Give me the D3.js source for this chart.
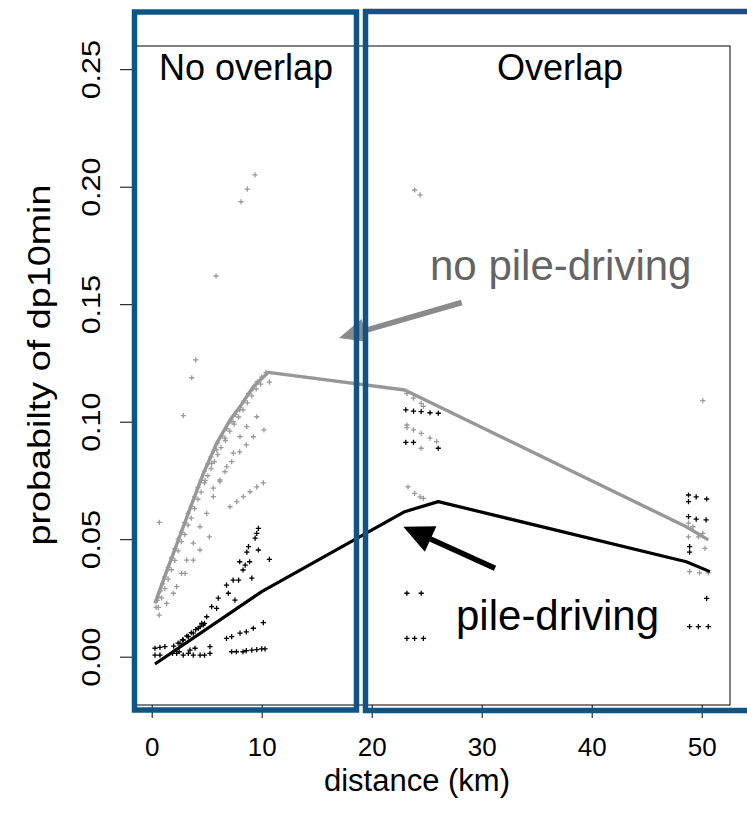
<!DOCTYPE html>
<html>
<head>
<meta charset="utf-8">
<script src="https://cdn.jsdelivr.net/npm/d3@7"></script>
<style>
  body { margin: 0; background: #fff; }
  svg { display: block; }
  text { font-family: "Liberation Sans", Arial, Helvetica, sans-serif; }
</style>
</head>
<body>
<svg id="chart" width="747" height="819"></svg>
<script>
// ---- axis ticks ----
const xTicks = [0, 10, 20, 30, 40, 50];
const yTicks = [0, 0.05, 0.10, 0.15, 0.20, 0.25];
const yTickLabels = ["0.00", "0.05", "0.10", "0.15", "0.20", "0.25"];

// ---- fitted curves (distance km, probability) ----
const greyLineX = [0.3, 1.06, 1.97, 2.87, 3.78, 4.7, 5.9, 7.12, 8.03, 9.24, 10.6, 23.0, 48.6, 50.6];
const greyLineY = [0.0227, 0.0326, 0.044, 0.0553, 0.0667, 0.078, 0.0908, 0.1007, 0.1064, 0.1149, 0.121, 0.1135, 0.0553, 0.0497];
const blackLineX = [0.3, 10.0, 23.0, 26.05, 48.6, 50.75];
const blackLineY = [-0.0031, 0.0277, 0.0617, 0.066, 0.0404, 0.0362];

// ---- observations without pile-driving (grey) ----
const greyPtX = [
  9.39, 8.69, 8.12, 5.85, 4.0, 3.64, 2.87, 10.7, 10.2, 0.69, 0.69,
  0.4, 0.5, 0.6, 0.8, 1.0, 1.2, 1.5, 1.8, 2.1, 2.4, 2.7, 3.0, 3.3, 3.6, 3.9, 4.2, 4.5, 4.8,
  5.1, 5.4, 5.7, 6.0, 6.4, 6.8, 7.2, 7.6, 8.0, 8.4, 8.8, 9.2, 9.6, 10.0, 10.4,
  0.6, 0.9, 1.2, 1.5, 1.8, 2.1, 2.4, 2.7, 3.0, 3.3, 3.6, 3.9, 4.2, 4.5, 4.8,
  5.1, 5.4, 5.7, 6.0, 6.3, 6.7, 7.1, 7.5, 7.9, 8.3, 8.7, 9.1, 9.5, 9.9,
  8.0, 7.4, 6.66, 5.9, 5.45, 4.85,
  1.36, 1.97, 2.72, 3.18, 3.78, 4.39, 5.0, 5.6, 6.2, 6.82, 7.42, 8.03, 8.64, 9.55,
  2.27, 3.03, 3.78, 4.39, 5.24,
  5.6, 6.2, 6.66, 7.27, 8.0, 8.6, 9.24,
  7.12, 7.73, 8.33, 8.94, 9.55, 10.15,
  23.2, 23.8, 24.5, 24.7, 23.2, 23.8, 24.5, 25.3, 25.9, 24.5, 23.2,
  23.3, 23.9, 24.4, 24.7, 24.4, 23.9,
  50.1, 48.8, 48.8, 49.7, 50.3, 48.9, 49.8, 50.6, 49.2, 50.1
];
const greyPtY = [
  0.205, 0.199, 0.1936, 0.162, 0.1263, 0.1187, 0.1026, 0.1168, 0.0965, 0.0572, 0.0177,
  0.021, 0.024, 0.0255, 0.028, 0.031, 0.034, 0.038, 0.042, 0.046, 0.050, 0.053, 0.057, 0.061, 0.064, 0.068, 0.072, 0.075, 0.079,
  0.082, 0.085, 0.088, 0.091, 0.094, 0.097, 0.100, 0.103, 0.106, 0.109, 0.112, 0.114, 0.117, 0.119, 0.121,
  0.021, 0.025, 0.029, 0.033, 0.037, 0.041, 0.045, 0.049, 0.052, 0.056, 0.059, 0.063, 0.067, 0.070, 0.074,
  0.077, 0.080, 0.083, 0.086, 0.089, 0.092, 0.096, 0.099, 0.102, 0.105, 0.108, 0.111, 0.114, 0.116,
  0.105, 0.1, 0.093, 0.088, 0.0823, 0.075,
  0.0227, 0.027, 0.0355, 0.0411, 0.0483, 0.0553, 0.061, 0.0681, 0.0752, 0.0809, 0.0866, 0.0936, 0.0979, 0.1021,
  0.0298, 0.0355, 0.0411, 0.0454, 0.051,
  0.0717, 0.0745, 0.0787, 0.083, 0.0872, 0.0901, 0.0936,
  0.0638, 0.066, 0.0681, 0.0702, 0.0723, 0.074,
  0.112, 0.11, 0.1078, 0.1065, 0.0986, 0.0965, 0.095, 0.093, 0.0915, 0.0887, 0.0975,
  0.0723, 0.0695, 0.068, 0.0674, 0.1965, 0.1986,
  0.109, 0.0568, 0.051, 0.051, 0.0461, 0.0362, 0.0357, 0.0357, 0.0553, 0.0525
];

// ---- observations with pile-driving (black) ----
const blackPtX = [
  9.7, 9.55, 9.4, 8.8, 8.65, 9.7, 8.0, 8.5, 8.9, 8.3, 9.1, 10.7, 7.4, 7.9, 6.8, 6.97, 6.05, 7.57,
  5.45, 5.9, 5.0, 4.55, 4.7, 4.24, 3.78, 3.33, 2.87, 2.57,
  2.0, 2.4, 2.8, 3.2, 3.6, 4.0, 4.4, 4.8,
  0.3, 0.75, 1.2, 0.3, 0.75, 2.27, 2.87, 3.33, 3.78, 4.4, 4.8, 5.3, 5.3, 3.94, 3.48, 1.9, 2.5,
  6.8, 7.27, 8.03, 8.6, 9.24, 10.15,
  7.27, 7.7, 8.3, 8.6, 9.1, 9.55, 10.0, 10.3,
  23.1, 23.8, 24.5, 25.3, 26.05, 23.1, 23.8, 26.05,
  23.2, 24.5, 23.2, 23.9, 24.7,
  48.8, 48.8, 49.5, 50.45, 48.8, 49.5, 50.4, 48.9, 48.9, 50.45, 48.9, 49.7, 50.6
];
const blackPtY = [
  0.0546, 0.0525, 0.0505, 0.0468, 0.0445, 0.0454, 0.0404, 0.039, 0.0404, 0.0369, 0.0334, 0.0414, 0.0326, 0.0326, 0.0305, 0.027, 0.0249, 0.0241,
  0.0213, 0.0206, 0.017, 0.0142, 0.0135, 0.0121, 0.01, 0.0085, 0.0071, 0.0057,
  0.0045, 0.0058, 0.0072, 0.0088, 0.0102, 0.0115, 0.0128, 0.0142,
  0.0036, 0.004, 0.0043, 0.0007, 0.0007, 0.0014, 0.0007, 0.0014, 0.0007, 0.0007, 0.0007, 0.0014, 0.0043, 0.0036, 0.0028, 0.0014, 0.0021,
  0.0078, 0.0085, 0.01, 0.0106, 0.0121, 0.0145,
  0.0021, 0.0021, 0.0021, 0.0026, 0.0028, 0.003, 0.0033, 0.0033,
  0.105, 0.1045, 0.1043, 0.1038, 0.1036, 0.0912, 0.0912, 0.0887,
  0.027, 0.027, 0.0078, 0.0078, 0.0078,
  0.0688, 0.066, 0.068, 0.0671, 0.0596, 0.0585, 0.0582, 0.0468, 0.0445, 0.0248, 0.0128, 0.0128, 0.0128
];

// ---- layout ----
const box = { left: 133, right: 730, top: 46, bottom: 705 };
const svg = d3.select("#chart");

const x = d3.scaleLinear().domain([0, 50]).range([151.7, 701.7]);
const y = d3.scaleLinear().domain([0, 0.25]).range([656.7, 69.2]);

// plus-shaped markers
const plus = (s) => `M${-s},0H${s}M0,${-s}V${s}`;

function drawPoints(xs, ys, colour) {
  svg.append("g")
    .selectAll("path")
    .data(xs.map((d, i) => [d, ys[i]]))
    .join("path")
    .attr("transform", d => `translate(${x(d[0])},${y(d[1])})`)
    .attr("d", plus(2.6))
    .attr("stroke", colour)
    .attr("stroke-width", 1.3)
    .attr("fill", "none");
}
drawPoints(greyPtX, greyPtY, "#9a9a9a");
drawPoints(blackPtX, blackPtY, "#000");

const line = d3.line().x(d => x(d[0])).y(d => y(d[1]));
svg.append("path")
  .datum(greyLineX.map((d, i) => [d, greyLineY[i]]))
  .attr("d", line).attr("fill", "none")
  .attr("stroke", "#979797").attr("stroke-width", 3.4).attr("stroke-linejoin", "round");
svg.append("path")
  .datum(blackLineX.map((d, i) => [d, blackLineY[i]]))
  .attr("d", line).attr("fill", "none")
  .attr("stroke", "#000").attr("stroke-width", 3.2).attr("stroke-linejoin", "round");

// plot frame
svg.append("rect")
  .attr("x", box.left).attr("y", box.top)
  .attr("width", box.right - box.left).attr("height", box.bottom - box.top)
  .attr("fill", "none").attr("stroke", "#000").attr("stroke-width", 1);

// x axis
const xAxis = svg.append("g")
  .attr("transform", `translate(0,${box.bottom})`)
  .call(d3.axisBottom(x).tickValues(xTicks).tickSize(13).tickFormat(d3.format("d")));
xAxis.select(".domain").remove();
xAxis.selectAll(".tick line").attr("stroke", "#000").attr("stroke-width", 1);
xAxis.selectAll(".tick text")
  .attr("y", 51).attr("dy", 0)
  .attr("font-size", 26).attr("fill", "#000")
  .attr("font-family", '"Liberation Sans", Arial, sans-serif');

// y axis
const yAxis = svg.append("g")
  .attr("transform", `translate(${box.left},0)`)
  .call(d3.axisLeft(y).tickValues(yTicks).tickSize(13).tickFormat((d, i) => yTickLabels[i]));
yAxis.select(".domain").remove();
yAxis.selectAll(".tick line").attr("stroke", "#000").attr("stroke-width", 1);
yAxis.selectAll(".tick text")
  .attr("x", 0).attr("dy", 0)
  .attr("text-anchor", "middle")
  .attr("transform", "translate(-33,0) rotate(-90) scale(1.22,1)")
  .attr("font-size", 25).attr("fill", "#000")
  .attr("font-family", '"Liberation Sans", Arial, sans-serif');

// axis titles
svg.append("text")
  .attr("x", 417).attr("y", 791)
  .attr("text-anchor", "middle").attr("font-size", 31)
  .text("distance (km)");
svg.append("text")
  .attr("transform", "translate(50,365) rotate(-90) scale(1.18,1)")
  .attr("text-anchor", "middle").attr("font-size", 32)
  .text("probabilty of dp10min");

// region labels
svg.append("text").attr("x", 246).attr("y", 80).attr("text-anchor", "middle")
  .attr("font-size", 36).text("No overlap");
svg.append("text").attr("x", 560).attr("y", 80).attr("text-anchor", "middle")
  .attr("font-size", 36).text("Overlap");

// series annotations
svg.append("text").attr("x", 430).attr("y", 280)
  .attr("font-size", 42).attr("fill", "#646464").text("no pile-driving");
svg.append("text").attr("x", 456).attr("y", 630)
  .attr("font-size", 42).attr("fill", "#000").text("pile-driving");

function arrow(x0, y0, x1, y1, colour, width, headLen, headW) {
  const dx = x1 - x0, dy = y1 - y0, L = Math.hypot(dx, dy);
  const ux = dx / L, uy = dy / L, nx = -uy, ny = ux;
  const bx = x1 - ux * headLen, by = y1 - uy * headLen;
  svg.append("line")
    .attr("x1", x0).attr("y1", y0).attr("x2", bx + ux * 2).attr("y2", by + uy * 2)
    .attr("stroke", colour).attr("stroke-width", width);
  svg.append("path")
    .attr("d", `M${x1},${y1}L${bx + nx * headW / 2},${by + ny * headW / 2}L${bx - nx * headW / 2},${by - ny * headW / 2}Z`)
    .attr("fill", colour);
}
arrow(461.7, 302.5, 339, 338, "#8a8a8a", 5.5, 27, 24);
arrow(495, 568.3, 403.3, 526.7, "#000", 5.5, 30, 28);

// region frames
const blue = "#0e5485";
svg.append("rect")
  .attr("x", 134.5).attr("y", 12).attr("width", 356.5 - 134.5).attr("height", 710 - 12)
  .attr("fill", "none").attr("stroke", blue).attr("stroke-width", 5.5);
svg.append("rect")
  .attr("x", 365.5).attr("y", 11.5).attr("width", 800).attr("height", 710.5 - 11.5)
  .attr("fill", "none").attr("stroke", blue).attr("stroke-width", 5.5);
</script>
</body>
</html>
